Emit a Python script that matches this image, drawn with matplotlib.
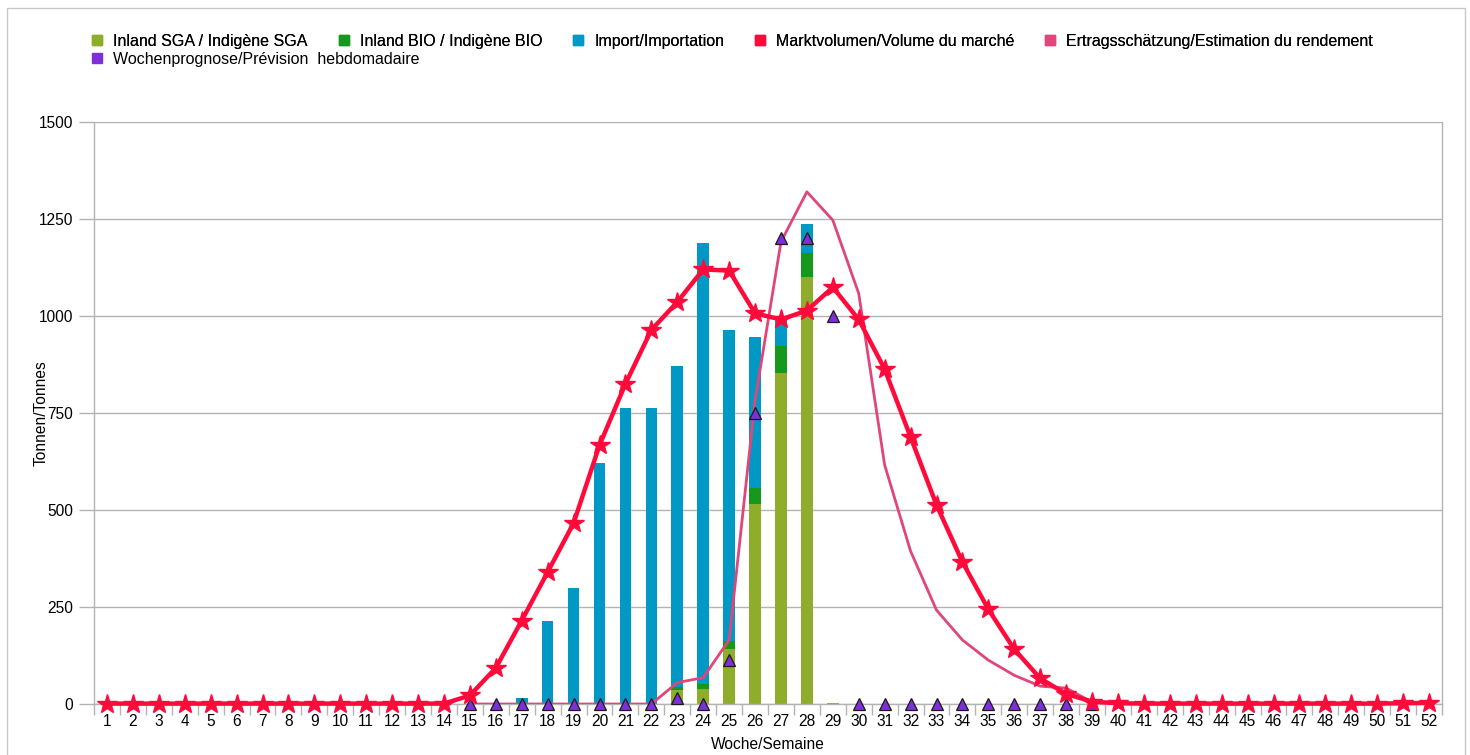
import matplotlib
matplotlib.use("Agg")
import matplotlib.pyplot as plt
from matplotlib.lines import Line2D
from matplotlib.patches import Rectangle
import numpy as np

plt.rcParams['font.family'] = ['Liberation Sans', 'DejaVu Sans']

weeks = list(range(1, 53))
week_labels = [str(w) for w in weeks]

# Inland SGA / Indigène SGA (weeks 1..52)
sga = [0]*22 + [36, 38, 141, 516, 853, 1101, 3] + [0]*23
# Inland BIO / Indigène BIO
bio = [0]*22 + [7, 13, 22, 41, 70, 62, 0] + [0]*23
# Import/Importation
imp = [0]*16 + [15, 214, 299, 621, 763, 763, 828, 1137, 801, 389, 67, 74] + [0]*24

# Marktvolumen/Volume du marché
market = [1, 1, 1, 1, 1, 1, 1, 1, 1, 1, 1, 1, 1, 1,
          22, 93, 215, 340, 466, 667, 825, 964, 1036, 1120, 1117, 1007, 991, 1014,
          1074, 991, 863, 688, 513, 366, 244, 141, 66, 26, 6, 2,
          1, 1, 1, 1, 1, 1, 1, 1, 1, 1, 2, 3]

# Ertragsschätzung/Estimation du rendement (weeks 15..39)
yield_weeks = list(range(15, 40))
yield_est = [0, 0, 0, 0, 0, 0, 0, 0, 55, 68, 165, 782, 1191, 1320, 1247, 1058,
             616, 394, 242, 165, 113, 74, 46, 41, 5]

# Wochenprognose/Prévision hebdomadaire (weeks 15..39)
fc_weeks = list(range(15, 40))
forecast = [0, 0, 0, 0, 0, 0, 0, 0, 15, 0, 113, 750, 1200, 1200, 1000,
            0, 0, 0, 0, 0, 0, 0, 0, 0, 0]

c_sga = '#8DAD2B'
c_bio = '#15981B'
c_imp = '#0099C6'
c_mkt = '#FF0A3A'
c_yld = '#E0457B'
c_fc = '#7E2FD8'
grid_c = '#B3B3B3'

fig = plt.figure(figsize=(14.7, 7.55), dpi=100)
ax = fig.add_axes([94/1470, 1 - 704/755, (1442-94)/1470, (704-122)/755])

x = np.array(weeks)
w = 0.45
sga_a = np.array(sga); bio_a = np.array(bio); imp_a = np.array(imp)
ax.bar(x, sga_a, width=w, color=c_sga, zorder=2)
ax.bar(x, bio_a, width=w, bottom=sga_a, color=c_bio, zorder=2)
ax.bar(x, imp_a, width=w, bottom=sga_a + bio_a, color=c_imp, zorder=2)

ax.plot(yield_weeks, yield_est, color=c_yld, lw=2.0, zorder=3)
ax.plot(fc_weeks, forecast, linestyle='none', marker='^', markersize=8.5,
        markerfacecolor=c_fc, markeredgecolor='#1a1a1a', markeredgewidth=0.9,
        zorder=4, clip_on=False)
ax.plot(weeks, market, color=c_mkt, lw=3.2, marker='*', markersize=15,
        markerfacecolor=c_mkt, markeredgecolor=c_mkt, zorder=5, clip_on=False)

fs = 11.2
ax.set_xlim(0.5, 52.5)
ax.set_ylim(0, 1500)
ax.set_yticks(range(0, 1501, 250))
ax.set_yticklabels([str(v) for v in range(0, 1501, 250)])
ax.set_xticks(x)
ax.set_xticklabels(week_labels)
ax.set_xticks(np.arange(0.5, 53, 1), minor=True)
ax.tick_params(axis='x', which='major', length=0, labelsize=fs, pad=7, colors='black')
ax.tick_params(axis='x', which='minor', length=8, color=grid_c, width=1)
ax.tick_params(axis='y', which='major', length=11, color=grid_c, width=1, labelsize=fs, pad=4)
ax.yaxis.grid(True, color=grid_c, lw=1)
ax.set_axisbelow(True)
for s in ['left', 'bottom', 'right']:
    ax.spines[s].set_color(grid_c)
    ax.spines[s].set_linewidth(1)
ax.spines['top'].set_visible(False)

ax.set_ylabel('Tonnen/Tonnes', fontsize=fs, labelpad=-7)
ax.set_xlabel('Woche/Semaine', fontsize=fs, labelpad=6)

# legend
def sq(c):
    return Line2D([], [], linestyle='none', marker='s', markersize=7,
                  markerfacecolor=c, markeredgecolor=c)

lfs = 11.5
h1 = [sq(c_sga), sq(c_bio), sq(c_imp), sq(c_mkt), sq(c_yld)]
l1 = ['Inland SGA / Indigène SGA', 'Inland BIO / Indigène BIO', 'Import/Importation',
      'Marktvolumen/Volume du marché', 'Ertragsschätzung/Estimation du rendement']
leg1 = fig.legend(h1, l1, loc='upper left', bbox_to_anchor=(91/1470, 1 - 34/755),
                  ncol=5, frameon=False, fontsize=lfs, handlelength=0.8,
                  handletextpad=0.6, columnspacing=1.85, borderaxespad=0, borderpad=0)
leg2 = fig.legend([sq(c_fc)], ['Wochenprognose/Prévision  hebdomadaire'], loc='upper left',
                  bbox_to_anchor=(91/1470, 1 - 52/755), frameon=False, fontsize=lfs,
                  handlelength=0.8, handletextpad=0.6, borderaxespad=0, borderpad=0)
fig.add_artist(leg1)

# outer chart border
fig.add_artist(Rectangle((7/1470, -0.05), (1465-7)/1470, (1 - 8/755) + 0.05,
                         transform=fig.transFigure, fill=False, edgecolor='#C8C8C8', lw=1))

fig.savefig('out.png', dpi=100)
